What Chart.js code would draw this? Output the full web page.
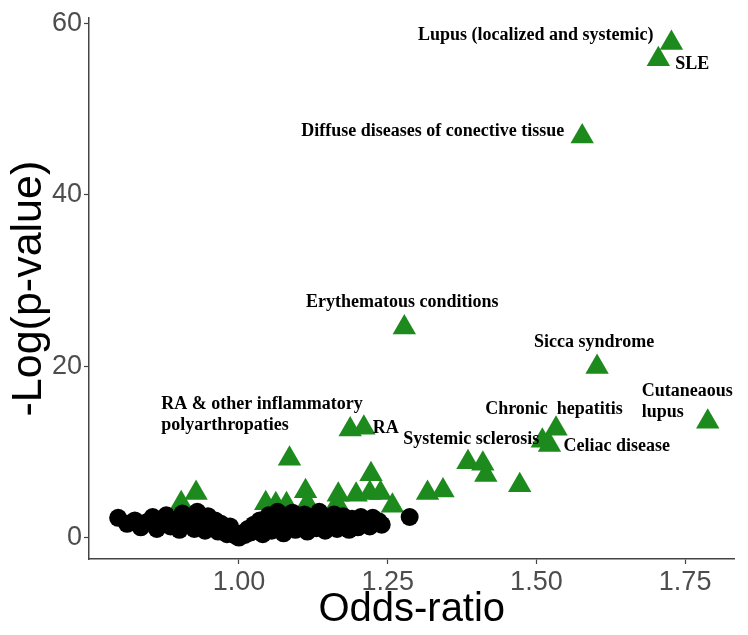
<!DOCTYPE html>
<html>
<head>
<meta charset="utf-8">
<script src="https://cdn.jsdelivr.net/npm/chart.js@4.4.1/dist/chart.umd.min.js"></script>
<style>
  html, body { margin: 0; padding: 0; background: #fff; }
  canvas { display: block; }
</style>
</head>
<body>
<canvas id="volcano" width="748" height="635"></canvas>
<script>
// non-significant associations (odds ratio, -log p)
const nsOdds = [0.797, 0.812, 0.825, 0.835, 0.845, 0.855, 0.862, 0.870, 0.878, 0.885, 0.892, 0.900, 0.905, 0.912, 0.918, 0.925, 0.930, 0.937, 0.943, 0.948, 0.955, 0.960, 0.965, 0.970, 0.975, 0.980, 0.985, 0.990, 0.995, 1.000,
  1.005, 1.010, 1.015, 1.020, 1.025, 1.030, 1.035, 1.040, 1.045, 1.050, 1.055, 1.060, 1.065, 1.070, 1.075, 1.080, 1.085, 1.090, 1.095, 1.100, 1.105, 1.110, 1.115, 1.120, 1.125, 1.130, 1.135, 1.140, 1.145, 1.150,
  1.155, 1.160, 1.165, 1.170, 1.175, 1.180, 1.185, 1.190, 1.195, 1.200, 1.205, 1.210, 1.215, 1.220, 1.225, 1.230, 1.235, 1.240, 1.287];
const nsLogP = [2.3, 1.6, 2.0, 1.2, 1.8, 2.4, 1.0, 1.6, 2.6, 1.3, 2.0, 0.9, 2.8, 1.6, 2.3, 1.0, 3.0, 1.8, 0.8, 2.5, 1.4, 2.0, 0.7, 1.6, 1.1, 0.4, 1.3, 0.6, 0.2, 0.0,
  0.5, 0.3, 1.0, 0.6, 1.5, 0.9, 2.0, 0.4, 1.4, 2.6, 0.8, 1.9, 3.0, 1.2, 0.5, 2.3, 1.6, 2.9, 0.9, 2.0, 1.3, 2.7, 0.7, 1.8, 2.4, 1.1, 3.0, 1.6, 0.8, 2.2,
  1.3, 2.7, 1.0, 1.9, 2.5, 1.4, 0.9, 2.2, 1.7, 1.2, 2.4, 1.6, 2.0, 1.3, 2.3, 1.7, 1.9, 1.5, 2.4];

// significant associations; the first ones carry a label
const sigNames = ['Lupus (localized and systemic)', 'SLE', 'Diffuse diseases of conective tissue', 'Erythematous conditions', 'Sicca syndrome', 'Cutaneaous\nlupus', 'Chronic  hepatitis', 'Celiac disease', 'Systemic sclerosis', 'RA', 'RA & other inflammatory\npolyarthropaties'];
const sigOdds = [1.727, 1.705, 1.577, 1.278, 1.602, 1.788, 1.533, 1.522, 1.510, 1.210, 1.187,
  1.085, 1.222, 0.928, 0.903, 1.112, 1.115, 1.167, 1.165, 1.197, 1.220, 1.238, 1.258, 1.045, 1.062, 1.080, 1.385, 1.410, 1.415, 1.472, 1.317, 1.343, 1.167];
const sigLogP = [57.7, 55.8, 46.8, 24.5, 19.9, 13.5, 12.7, 10.8, 11.3, 12.8, 12.6,
  9.2, 7.4, 5.2, 4.0, 5.4, 4.0, 5.0, 4.0, 5.0, 5.2, 5.2, 3.7, 4.0, 3.9, 3.9, 8.8, 8.6, 7.3, 6.1, 5.2, 5.5, 3.4];

const xTicks = [1.00, 1.25, 1.50, 1.75];
const yTicks = [0, 20, 40, 60];

// label placement: pixel offset from the point, text alignment
const labelPlace = [
  { dx: -18, dy: -8, align: 'right' },
  { dx: 17, dy: 5, align: 'left' },
  { dx: -18, dy: -5, align: 'right' },
  { dx: -2, dy: -25, align: 'center' },
  { dx: -3, dy: -25, align: 'center' },
  { dx: -66, dy: -31, align: 'left' },
  { dx: -2, dy: -19, align: 'center' },
  { dx: 14, dy: 1, align: 'left' },
  { dx: -3, dy: -1, align: 'right' },
  { dx: 9, dy: 0, align: 'left' },
  { dx: -189, dy: -25, align: 'left' }
];

const toPoints = (xs, ys) => xs.map((x, i) => ({ x, y: ys[i] }));

const pointLabels = {
  id: 'pointLabels',
  afterDatasetsDraw(chart) {
    const ctx = chart.ctx;
    const xs = chart.scales.x, ys = chart.scales.y;
    ctx.save();
    ctx.fillStyle = '#000';
    ctx.font = 'bold 18px "Liberation Serif", serif';
    ctx.textBaseline = 'middle';
    sigNames.forEach((name, i) => {
      const px = xs.getPixelForValue(sigOdds[i]);
      const py = ys.getPixelForValue(sigLogP[i]);
      const p = labelPlace[i];
      ctx.textAlign = p.align;
      name.split('\n').forEach((line, k) => {
        ctx.fillText(line, px + p.dx, py + p.dy + k * 21);
      });
    });
    ctx.restore();
  }
};

new Chart(document.getElementById('volcano'), {
  type: 'scatter',
  data: {
    datasets: [
      {
        label: 'ns',
        data: toPoints(nsOdds, nsLogP),
        pointStyle: 'circle',
        pointRadius: 9,
        backgroundColor: '#000',
        borderColor: '#000',
        borderWidth: 0
      },
      {
        label: 'sig',
        data: toPoints(sigOdds, sigLogP),
        pointStyle: 'triangle',
        pointRadius: 13.5,
        backgroundColor: '#1c8a1c',
        borderColor: '#1c8a1c',
        borderWidth: 0
      }
    ]
  },
  options: {
    responsive: false,
    animation: false,
    layout: { padding: { top: 8, right: 8, left: 0, bottom: 0 } },
    plugins: { legend: { display: false }, tooltip: { enabled: false } },
    scales: {
      x: {
        type: 'linear',
        min: 0.748,
        max: 1.833,
        afterFit: s => { s.height = 76; },
        afterBuildTicks: s => { s.ticks = xTicks.map(v => ({ value: v })); },
        ticks: {
          color: '#4d4d4d',
          font: { family: '"Liberation Sans", Arial, sans-serif', size: 27 },
          padding: 2,
          callback: v => v.toFixed(2)
        },
        grid: { drawOnChartArea: false, drawTicks: true, tickLength: 5, tickColor: '#444', tickWidth: 1.2 },
        border: { display: true, color: '#444', width: 1.5 },
        title: {
          display: true,
          text: 'Odds-ratio',
          color: '#000',
          font: { family: '"Liberation Sans", Arial, sans-serif', size: 40 },
          padding: { top: 0, bottom: 1 }
        }
      },
      y: {
        type: 'linear',
        min: -2.5,
        max: 60.6,
        afterFit: s => { s.width = 89; },
        afterBuildTicks: s => { s.ticks = yTicks.map(v => ({ value: v })); },
        ticks: {
          color: '#4d4d4d',
          font: { family: '"Liberation Sans", Arial, sans-serif', size: 27 },
          padding: 2
        },
        grid: { drawOnChartArea: false, drawTicks: true, tickLength: 5, tickColor: '#444', tickWidth: 1.2 },
        border: { display: true, color: '#444', width: 1.5 },
        title: {
          display: true,
          text: '-Log(p-value)',
          color: '#000',
          font: { family: '"Liberation Sans", Arial, sans-serif', size: 43 },
          padding: { top: 3, bottom: 0 }
        }
      }
    }
  },
  plugins: [pointLabels]
});
</script>
</body>
</html>
